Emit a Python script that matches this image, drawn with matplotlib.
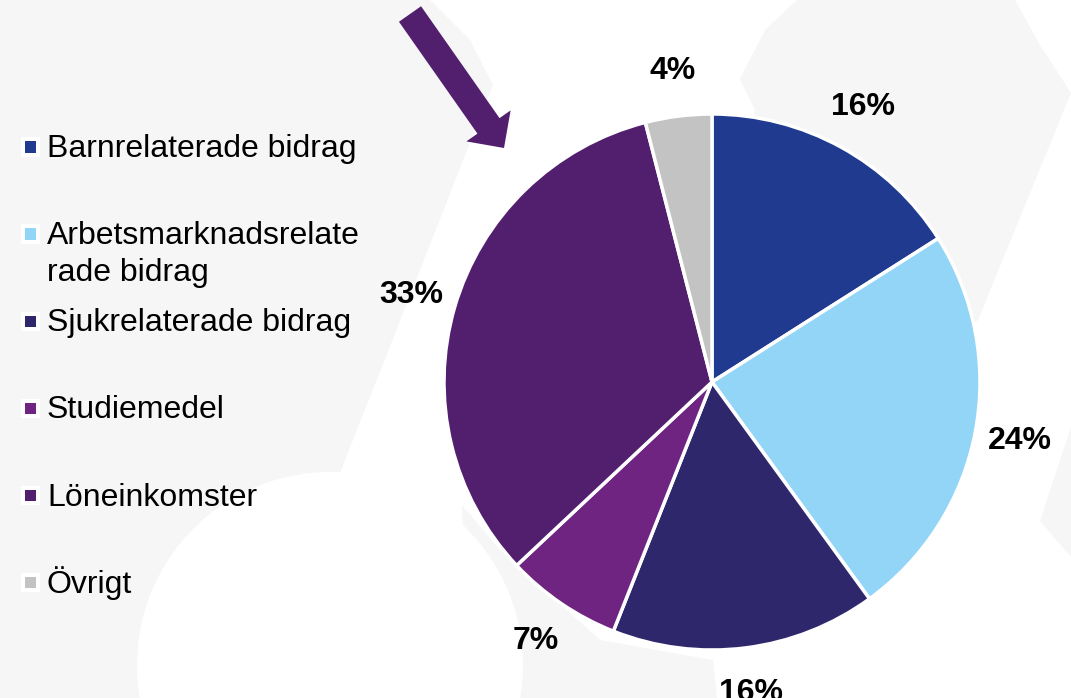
import matplotlib
matplotlib.use("Agg")
import matplotlib.pyplot as plt
from matplotlib import patches

plt.rcParams['font.family'] = ['Liberation Sans', 'DejaVu Sans']

# ---- data ----
categories = ['Barnrelaterade bidrag', 'Arbetsmarknadsrelaterade bidrag',
              'Sjukrelaterade bidrag', 'Studiemedel', 'Löneinkomster', 'Övrigt']
legend_labels = ['Barnrelaterade bidrag', 'Arbetsmarknadsrelate\nrade bidrag',
                 'Sjukrelaterade bidrag', 'Studiemedel', 'Löneinkomster', 'Övrigt']
values = [16, 24, 16, 7, 33, 4]
colors = ['#203A8F', '#93D5F6', '#2F276C', '#6E2480', '#521E6E', '#C3C3C3']

W, H = 1071, 698
fig = plt.figure(figsize=(W / 100, H / 100), dpi=100)
fig.patch.set_facecolor('white')

def px(x, y):
    return (x / 100.0, (H - y) / 100.0)

GRAY = '#F6F6F6'
T = fig.dpi_scale_trans

# ---- decorative background ----
bg_shapes = [
    [(0, 0), (430, 0), (470, 40), (493, 85), (470, 143), (340, 473), (340, 698), (0, 698)],
    [(462, 505), (500, 550), (600, 640), (713, 660), (717, 698), (470, 698)],
    [(797, 0), (1015, 0), (1040, 45), (1071, 93), (978, 320), (900, 380), (712, 382),
     (755, 110), (740, 79), (765, 30)],
    [(1071, 427), (1040, 521), (1071, 557)],
]
for shp in bg_shapes:
    fig.add_artist(patches.Polygon([px(*p) for p in shp], closed=True, facecolor=GRAY,
                                   edgecolor='none', transform=T, zorder=-10))
fig.add_artist(patches.Circle(px(330, 665), 1.93, facecolor='white', edgecolor='none',
                              transform=T, zorder=-9))

# ---- pie ----
cx, cy, r = 712, 382, 268
ax = fig.add_axes([(cx - r) / W, (H - cy - r) / H, 2 * r / W, 2 * r / H])
wedges, texts, autotexts = ax.pie(
    values, colors=colors, startangle=90, counterclock=False,
    autopct=lambda p: f'{p:.0f}%', pctdistance=1.17,
    wedgeprops=dict(edgecolor='white', linewidth=2.5),
    textprops=dict(fontsize=23, fontweight='bold', color='black'))
ax.set_xlim(-1, 1)
ax.set_ylim(-1, 1)
ax.set_aspect('equal')
ax.axis('off')
for t in autotexts:
    t.set_clip_on(False)

# ---- legend (manual, evenly spaced like the original) ----
y0, step = 147, 87
for i, (lab, col) in enumerate(zip(legend_labels, colors)):
    yc = y0 + i * step
    fig.add_artist(patches.Rectangle(px(21, yc + 9.5), 0.19, 0.19, facecolor='white',
                                     edgecolor='none', transform=T, zorder=2))
    fig.add_artist(patches.Rectangle(px(25, yc + 5.5), 0.11, 0.11, facecolor=col,
                                     edgecolor='none', transform=T, zorder=3))
    for j, line in enumerate(lab.split('\n')):
        x, y = px(47, yc + 10.5 + j * 36)
        fig.text(x / (W / 100), y / (H / 100), line, fontsize=23, color='black',
                 ha='left', va='baseline')

# ---- arrow ----
tx, ty = px(410, 14)
hx, hy = px(504, 148)
fig.add_artist(patches.FancyArrow(tx, ty, hx - tx, hy - ty, width=0.27, head_width=0.54,
                                  head_length=0.27, length_includes_head=True,
                                  facecolor='#521E6E', edgecolor='none', transform=T,
                                  zorder=5))

fig.savefig('out.png', dpi=100)
